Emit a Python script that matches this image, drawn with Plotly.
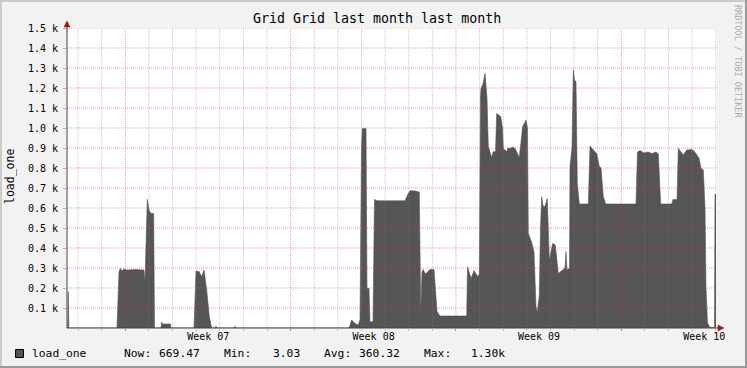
import plotly.graph_objects as go

# ---------------- data ----------------
# time in days, day 0 = start of Week 07
days = [-2.468, -2.434, -2.413, -2.392, -0.351, -0.267, -0.203, -0.140, -0.055, 0.072,
        0.411, 0.792, 0.834, 0.898, 0.931, 1.003, 1.088, 1.202, 1.236, 1.511,
        1.533, 1.575, 1.914, 1.935, 2.909, 2.993, 3.120, 3.235, 3.332, 3.446,
        3.556, 3.658, 3.819, 3.840, 3.861, 4.623, 4.644, 4.665, 9.471, 9.585,
        9.725, 9.864, 9.937, 10.000, 10.034, 10.191, 10.233, 10.318, 10.360, 10.487,
        10.550, 10.656, 11.842, 11.969, 12.053, 12.223, 12.447, 12.507, 12.561, 12.604,
        12.710, 12.900, 13.070, 13.197, 13.323, 14.454, 14.488, 14.636, 14.763, 14.920,
        14.987, 15.038, 15.059, 15.144, 15.229, 15.313, 15.368, 15.512, 15.580, 15.673,
        15.724, 15.894, 15.970, 16.003, 16.147, 16.202, 16.287, 16.414, 16.499, 16.681,
        16.774, 16.825, 16.965, 17.028, 17.062, 17.206, 17.303, 17.346, 17.388, 17.443,
        17.528, 17.578, 17.629, 17.684, 17.769, 17.866, 17.909, 17.951, 18.095, 18.205,
        18.332, 18.476, 18.616, 18.658, 18.700, 18.806, 18.827, 18.912, 18.967, 19.018,
        19.081, 19.136, 19.221, 19.602, 19.645, 19.674, 19.814, 19.958, 20.068, 20.140,
        20.237, 20.339, 21.622, 21.685, 21.791, 21.960, 22.130, 22.299, 22.468, 22.566,
        22.667, 23.133, 23.188, 23.357, 23.413, 23.527, 23.624, 23.768, 23.980, 24.077,
        24.192, 24.289, 24.373, 24.471, 24.543, 24.585, 24.649, 24.754, 24.945, 24.966,
        25.009]
load_one = [0, 0, 181, 0, 0, 281, 298, 285, 295, 290,
            292, 290, 231, 580, 643, 590, 573, 573, 0, 0,
            30, 20, 20, 0, 0, 285, 283, 257, 290, 190,
            57, 0, 0, 10, 0, 0, 10, 0, 0, 40,
            23, 15, 43, 900, 998, 998, 198, 198, 31, 31,
            643, 636, 636, 670, 686, 686, 680, 75, 280, 293,
            270, 293, 293, 82, 60, 60, 307, 248, 287, 257,
            270, 1150, 1198, 1220, 1273, 1150, 907, 853, 882, 880,
            1073, 1057, 1000, 898, 882, 900, 898, 905, 898, 853,
            960, 1007, 1040, 1000, 473, 427, 380, 200, 107, 78,
            165, 500, 657, 610, 607, 648, 500, 340, 423, 415,
            273, 287, 300, 382, 290, 300, 807, 900, 1290, 1240,
            1232, 723, 620, 620, 850, 910, 890, 873, 807, 800,
            657, 620, 620, 880, 887, 875, 880, 872, 880, 870,
            620, 620, 643, 643, 898, 880, 865, 890, 893, 885,
            865, 850, 798, 790, 600, 200, 25, 3, 3, 669,
            669]

week_starts = [0, 7, 14, 21]
week_labels = ["Week 07", "Week 08", "Week 09", "Week 10"]
day_lines = list(range(-2, 26))
y_ticks = [100, 200, 300, 400, 500, 600, 700, 800, 900, 1000, 1100, 1200, 1300, 1400, 1500]
y_labels = ["0.1 k", "0.2 k", "0.3 k", "0.4 k", "0.5 k", "0.6 k", "0.7 k", "0.8 k",
            "0.9 k", "1.0 k", "1.1 k", "1.2 k", "1.3 k", "1.4 k", "1.5 k"]

stat_now = "669.47"
stat_min = "3.03"
stat_avg = "360.32"
stat_max = "1.30k"
series_name = "load_one"
title_text = "Grid Grid last month last month"

# ---------------- layout geometry ----------------
W, H = 747, 368
L, R, T, B = 67, 717, 28, 328
PX_PER_DAY = 23.62
DAY0_PX = 125.3
X0 = (L - DAY0_PX) / PX_PER_DAY
X1 = (R - DAY0_PX) / PX_PER_DAY

def pxx(px):
    return (px - L) / (R - L)

def pyy(py):
    return (B - py) / (B - T)

FONT = "DejaVu Sans Mono"
AREA = "#555555"
RED_GRID = "rgba(220,60,60,0.5)"
GRAY_GRID = "rgba(128,128,128,0.45)"

fig = go.Figure()
fig.add_trace(go.Scatter(
    x=days, y=load_one, mode="lines", fill="tozeroy",
    fillcolor=AREA, line=dict(color=AREA, width=0.6),
    hoverinfo="skip", showlegend=False))

shapes = []
# grid lines drawn above the area (as rrdtool does)
for d in day_lines:
    major = d in week_starts
    shapes.append(dict(type="line", xref="x", yref="y", x0=d, x1=d, y0=0, y1=1500,
                       layer="above",
                       line=dict(color=RED_GRID if major else GRAY_GRID, width=1, dash="1px,1px")))
for v in y_ticks:
    shapes.append(dict(type="line", xref="x", yref="y", x0=X0, x1=X1, y0=v, y1=v,
                       layer="above",
                       line=dict(color=RED_GRID, width=1, dash="1px,1px")))

# axis extensions and arrows
AXC = "#444444"
ARC = "#a01515"
shapes.append(dict(type="line", xref="paper", yref="paper", x0=0, x1=0, y0=0, y1=pyy(23),
                   line=dict(color=AXC, width=1), layer="above"))
shapes.append(dict(type="line", xref="paper", yref="paper", x0=0, x1=pxx(719), y0=0, y1=0,
                   line=dict(color=AXC, width=1), layer="above"))
shapes.append(dict(type="path", xref="paper", yref="paper",
                   path=f"M {pxx(64)} {pyy(27)} L {pxx(70)} {pyy(27)} L {pxx(67)} {pyy(21)} Z",
                   fillcolor=ARC, line=dict(color=ARC, width=0.5), layer="above"))
shapes.append(dict(type="path", xref="paper", yref="paper",
                   path=f"M {pxx(718)} {pyy(325)} L {pxx(718)} {pyy(331)} L {pxx(724)} {pyy(328)} Z",
                   fillcolor=ARC, line=dict(color=ARC, width=0.5), layer="above"))

# frame (3D border)
def rect(x0, y0, x1, y1, color):
    return dict(type="rect", xref="paper", yref="paper",
                x0=pxx(x0), x1=pxx(x1), y0=pyy(y0), y1=pyy(y1),
                fillcolor=color, line=dict(width=0), layer="above")
shapes.append(rect(0, 0, W, 2, "#cbcbcb"))
shapes.append(rect(0, 0, 2, H, "#cbcbcb"))
shapes.append(rect(0, H - 2, W, H, "#9a9a9a"))
shapes.append(rect(W - 2, 0, W, H, "#9a9a9a"))

# legend swatch
shapes.append(dict(type="rect", xref="paper", yref="paper",
                   x0=pxx(15.5), x1=pxx(23.5), y0=pyy(349.5), y1=pyy(357.5),
                   fillcolor=AREA, line=dict(color="#000000", width=1), layer="above"))

annotations = []
def txt(text, px, py, size, anchor="left", color="#000000", angle=0):
    annotations.append(dict(text=text, xref="paper", yref="paper", x=pxx(px), y=pyy(py),
                            xanchor=anchor, yanchor="middle", showarrow=False,
                            textangle=angle, borderpad=0,
                            font=dict(family=FONT, size=size, color=color)))

txt(title_text, 377, 18.5, 13.3, anchor="center")
txt(series_name, 10, 177, 11.5, anchor="center", angle=-90)
txt("RRDTOOL / TOBI OETIKER", 738, 61, 8.5, anchor="center", color="#ababab", angle=90)

LEG_Y = 353
txt(series_name, 30.5, LEG_Y, 11.3)
txt("Now:", 123, LEG_Y, 11.3)
txt(stat_now, 158.3, LEG_Y, 11.3)
txt("Min:", 222.7, LEG_Y, 11.3)
txt(stat_min, 271.7, LEG_Y, 11.3)
txt("Avg:", 323.3, LEG_Y, 11.3)
txt(stat_avg, 357.8, LEG_Y, 11.3)
txt("Max:", 422.7, LEG_Y, 11.3)
txt(stat_max, 470, LEG_Y, 11.3)

fig.update_layout(
    width=W, height=H,
    margin=dict(l=L, r=W - R, t=T, b=H - B, pad=0),
    paper_bgcolor="#f2f2f2", plot_bgcolor="#ffffff",
    showlegend=False,
    shapes=shapes, annotations=annotations,
    xaxis=dict(range=[X0, X1], tickvals=week_starts, ticktext=week_labels,
               ticklabelshift=int(round(3.5 * PX_PER_DAY)), ticklabelstandoff=-3,
               showgrid=False, zeroline=False,
               showline=False, ticks="outside", ticklen=2, tickcolor=RED_GRID,
               tickfont=dict(family=FONT, size=10, color="#000000"),
               minor=dict(tickvals=day_lines, ticks="outside", ticklen=2,
                          tickcolor=GRAY_GRID, showgrid=False),
               fixedrange=True),
    yaxis=dict(range=[0, 1500], tickvals=y_ticks, ticktext=y_labels,
               showgrid=False, zeroline=False, showline=False,
               ticks="outside", ticklen=3, tickcolor=RED_GRID,
               tickfont=dict(family=FONT, size=10, color="#000000"),
               ticklabelstandoff=3, fixedrange=True),
)

fig.write_html("out.html", config={"displayModeBar": False},
               post_script="document.body.style.margin='0px';document.body.style.overflow='hidden';")
